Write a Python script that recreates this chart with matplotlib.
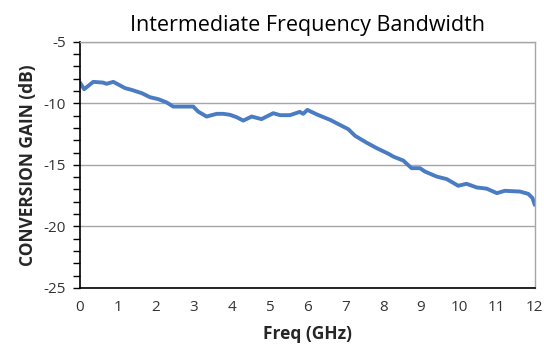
import matplotlib.pyplot as plt
from matplotlib.ticker import MultipleLocator

# Conversion gain vs IF frequency
freq = [0.00, 0.11, 0.35, 0.61, 0.70, 0.88, 1.19, 1.36, 1.63, 1.85, 2.07, 2.29,
        2.46, 2.99, 3.12, 3.34, 3.61, 3.78, 3.96, 4.13, 4.31, 4.53, 4.79, 5.10,
        5.28, 5.54, 5.80, 5.89, 6.00, 6.25, 6.60, 6.77, 7.08, 7.26, 7.56, 7.83,
        8.14, 8.27, 8.53, 8.75, 8.97, 9.10, 9.41, 9.68, 9.98, 10.20, 10.47,
        10.73, 11.00, 11.21, 11.61, 11.83, 11.94, 12.00]
gain = [-8.31, -8.85, -8.25, -8.31, -8.41, -8.25, -8.76, -8.90, -9.17, -9.50,
        -9.66, -9.93, -10.26, -10.26, -10.67, -11.07, -10.85, -10.85, -10.93,
        -11.12, -11.40, -11.07, -11.28, -10.80, -10.96, -10.96, -10.69, -10.85,
        -10.53, -10.90, -11.34, -11.61, -12.10, -12.64, -13.19, -13.64, -14.10,
        -14.33, -14.65, -15.27, -15.27, -15.54, -15.95, -16.16, -16.70, -16.54,
        -16.84, -16.93, -17.30, -17.11, -17.17, -17.36, -17.70, -18.25]

xticks = list(range(0, 13))
yticks = [-25, -20, -15, -10, -5]

plt.rcParams['font.family'] = ['Open Sans', 'DejaVu Sans']
plt.rcParams['axes.unicode_minus'] = False

fig = plt.figure(figsize=(5.44, 3.58), dpi=100)
ax = fig.add_axes([0.147, 0.196, 0.836, 0.687])

ax.plot(freq, gain, color="#4a7cc4", linewidth=2.8, solid_capstyle="round")

ax.set_xlim(0, 12)
ax.set_ylim(-25, -5)
ax.set_xticks(xticks)
ax.set_yticks(yticks)
ax.xaxis.set_minor_locator(MultipleLocator(2))
ax.yaxis.set_minor_locator(MultipleLocator(1))

ax.xaxis.grid(True, which="minor", color="#a6a6a6", linewidth=1)
ax.yaxis.grid(True, which="major", color="#a6a6a6", linewidth=1)
ax.set_axisbelow(True)

ax.tick_params(axis="x", which="both", length=0, pad=9, labelsize=11, labelcolor="#333333")
ax.tick_params(axis="y", which="both", length=5, width=1, direction="out",
               labelsize=11, labelcolor="#333333", pad=5)

for s in ["left", "bottom"]:
    ax.spines[s].set_color("black")
    ax.spines[s].set_linewidth(1.2)
for s in ["top", "right"]:
    ax.spines[s].set_color("#a6a6a6")
    ax.spines[s].set_linewidth(1)

ax.set_title("Intermediate Frequency Bandwidth", fontsize=15.5, pad=8)
ax.set_xlabel("Freq (GHz)", fontsize=12.5, fontweight="bold", color="#262626", labelpad=7)
ax.set_ylabel("CONVERSION GAIN (dB)", fontsize=12.5, fontweight="bold", color="#262626", labelpad=5)

fig.savefig("out.png", dpi=100)
